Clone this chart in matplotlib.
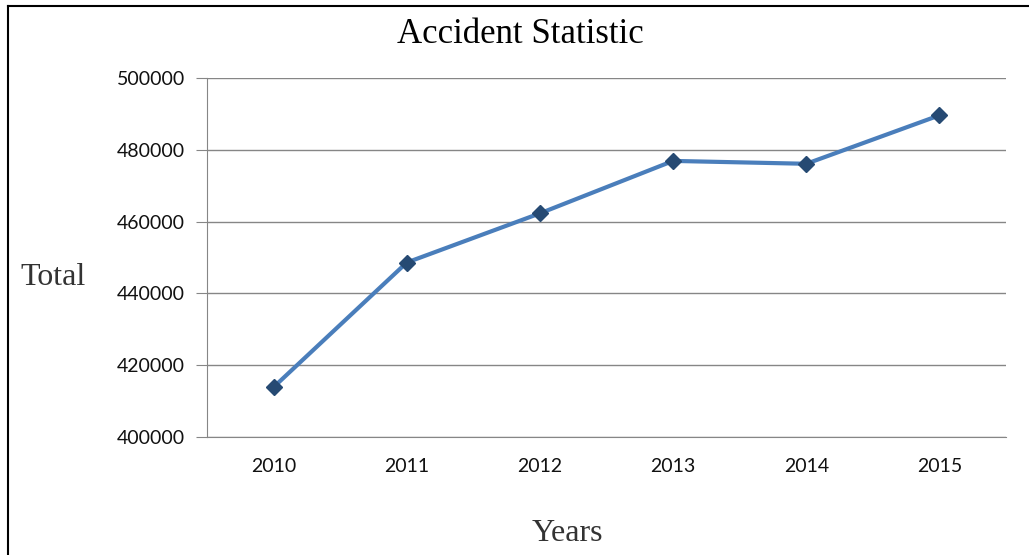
import matplotlib
matplotlib.use("Agg")
import matplotlib.pyplot as plt
from matplotlib.lines import Line2D

years = ["2010", "2011", "2012", "2013", "2014", "2015"]
totals = [413900, 448600, 462300, 476900, 476100, 489600]
y_ticks = [400000, 420000, 440000, 460000, 480000, 500000]

fig = plt.figure(figsize=(10.29, 5.55), dpi=100)
ax = fig.add_axes([0.2012, 0.2126, 0.7765, 0.6469])

grid_color = "#868686"
x = list(range(len(years)))
ax.plot(x, totals, color="#4a7ebb", linewidth=3, zorder=3)
ax.plot(x, totals, linestyle="none", marker="D", markersize=8,
        color="#264a73", zorder=4)

ax.set_xlim(-0.5, len(years) - 0.5)
ax.set_ylim(y_ticks[0], y_ticks[-1])
ax.set_yticks(y_ticks)
ax.set_yticklabels([str(v) for v in y_ticks])
ax.set_xticks(x)
ax.set_xticklabels(years)
ax.grid(axis="y", color=grid_color, linewidth=1)
ax.set_axisbelow(True)

for s in ["top", "right"]:
    ax.spines[s].set_visible(False)
ax.spines["left"].set_color(grid_color)
ax.spines["bottom"].set_color(grid_color)

ax.tick_params(axis="y", length=8, color=grid_color, pad=8)
ax.tick_params(axis="x", length=0, pad=15)
for lbl in ax.get_xticklabels() + ax.get_yticklabels():
    lbl.set_fontfamily("Lato")
    lbl.set_fontsize(14)
    lbl.set_color("#111111")

fig.text(0.506, 0.938, "Accident Statistic", ha="center", va="center",
         fontsize=25, family="Liberation Serif")
fig.text(0.052, 0.5, "Total", ha="center", va="center",
         fontsize=23, family="Liberation Serif", color="#333333")
fig.text(0.551, 0.038, "Years", ha="center", va="center",
         fontsize=23, family="Liberation Serif", color="#333333")

# frame lines on the left and top of the picture
fig.add_artist(Line2D([0.0078, 0.0078], [0.0, 0.989], transform=fig.transFigure,
                      color="black", linewidth=1.5))
fig.add_artist(Line2D([0.0078, 1.0], [0.989, 0.989], transform=fig.transFigure,
                      color="black", linewidth=1.5))

fig.savefig("out.png", dpi=100)
